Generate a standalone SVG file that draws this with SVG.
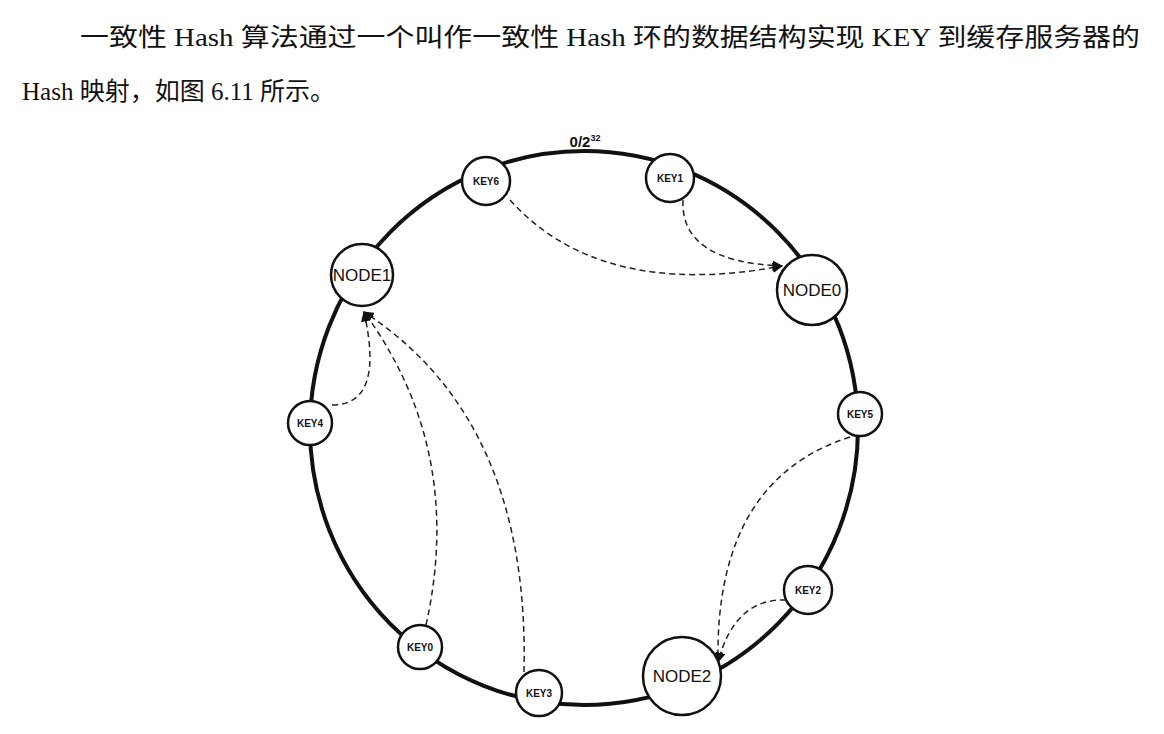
<svg xmlns="http://www.w3.org/2000/svg" width="1164" height="734" viewBox="0 0 1164 734">
<style>
.t{font-family:"Liberation Serif","Noto Sans CJK SC",serif;font-size:25px;fill:#111}
.k{fill:#fff;stroke:#111;stroke-width:2.5}
.kl{font-family:"Liberation Sans",sans-serif;font-size:10px;font-weight:bold;text-anchor:middle;fill:#111}
.nl{font-family:"Liberation Sans",sans-serif;font-size:17px;text-anchor:middle;fill:#111}
.c{fill:none;stroke:#222;stroke-width:1.5;stroke-dasharray:6 4}
</style>
<defs><marker id="a" viewBox="0 0 10 10" refX="9" refY="5" markerWidth="7" markerHeight="7" orient="auto"><path d="M0,0L10,5L0,10z" fill="#111"/></marker></defs>
<rect width="1164" height="734" fill="#fff"/>
<text class="t" x="80" y="46" textLength="1060" lengthAdjust="spacingAndGlyphs">一致性 Hash 算法通过一个叫作一致性 Hash 环的数据结构实现 KEY 到缓存服务器的</text>
<text class="t" x="22" y="100">Hash 映射，如图 6.11 所示。</text>
<ellipse cx="584" cy="428" rx="274" ry="277" fill="none" stroke="#111" stroke-width="4"/>
<text x="585" y="147" font-family="Liberation Sans,sans-serif" font-size="15" font-weight="bold" text-anchor="middle" fill="#111">0/2<tspan font-size="9" dy="-6">32</tspan></text>
<g id="connectors">
<path class="c" d="M510,200 Q600,300 782,266" marker-end="url(#a)"/>
<path class="c" d="M683,200 Q680,262 782,266" marker-end="url(#a)"/>
<path class="c" d="M332,405 Q385,405 364,312" marker-end="url(#a)"/>
<path class="c" d="M426,625 Q465,450 364,312" marker-end="url(#a)"/>
<path class="c" d="M524,672 Q530,420 364,312" marker-end="url(#a)"/>
<path class="c" d="M850,437 Q715,480 718,662" marker-end="url(#a)"/>
<path class="c" d="M786,600 Q735,598 718,662" marker-end="url(#a)"/>
</g>
<g id="KEY6"><circle class="k" cx="486" cy="181" r="24"/><text class="kl" x="486" y="185">KEY6</text></g>
<g id="KEY1"><circle class="k" cx="670" cy="178" r="24"/><text class="kl" x="670" y="182">KEY1</text></g>
<g id="NODE1"><circle class="k" cx="362" cy="275" r="31"/><text class="nl" x="362" y="281">NODE1</text></g>
<g id="NODE0"><circle class="k" cx="812" cy="290" r="35"/><text class="nl" x="812" y="296">NODE0</text></g>
<g id="KEY5"><circle class="k" cx="860" cy="414" r="22"/><text class="kl" x="860" y="418">KEY5</text></g>
<g id="KEY4"><circle class="k" cx="310" cy="423" r="22"/><text class="kl" x="310" y="427">KEY4</text></g>
<g id="KEY2"><circle class="k" cx="808" cy="590" r="24"/><text class="kl" x="808" y="594">KEY2</text></g>
<g id="KEY0"><circle class="k" cx="420" cy="647" r="22"/><text class="kl" x="420" y="651">KEY0</text></g>
<g id="KEY3"><circle class="k" cx="539" cy="693" r="23"/><text class="kl" x="539" y="697">KEY3</text></g>
<g id="NODE2"><circle class="k" cx="682" cy="676" r="39"/><text class="nl" x="682" y="682">NODE2</text></g>
</svg>
